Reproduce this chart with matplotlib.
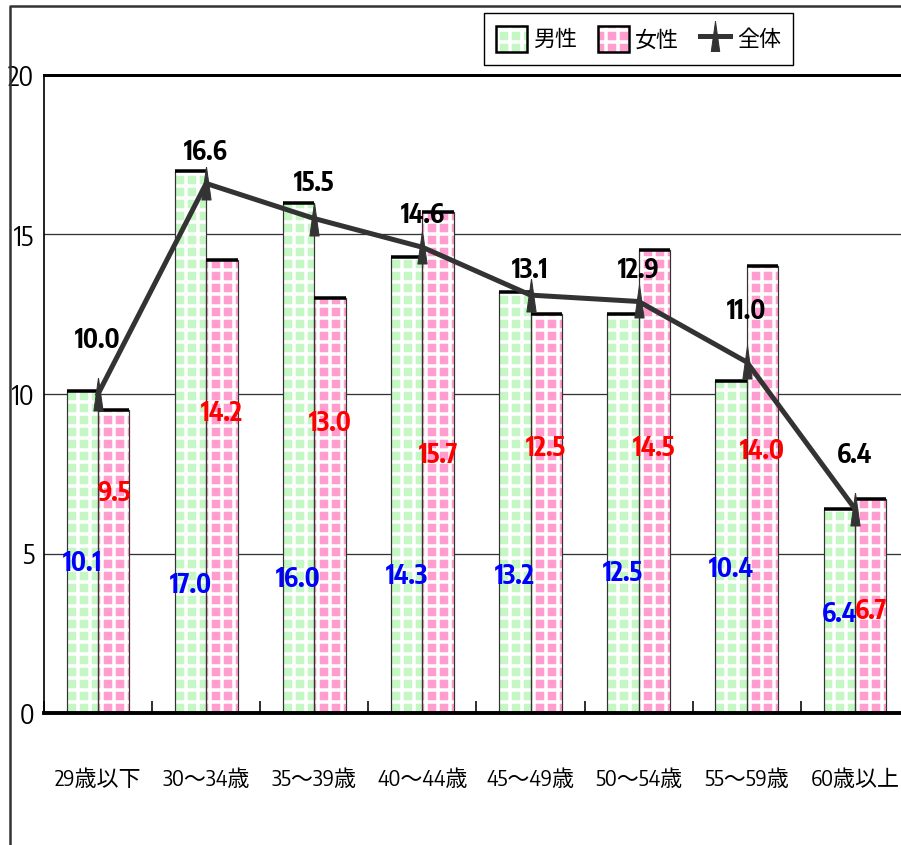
import numpy as np
import matplotlib
matplotlib.use("Agg")
import matplotlib.pyplot as plt
import matplotlib.patches as mpatches
from matplotlib.lines import Line2D
from matplotlib import font_manager as fm

# at 72 dpi one point is one pixel, so every size below is in pixels
DPI = 72

# look for a narrow latin face (with a bold weight); the chart's lettering is tall and condensed
cands = {}
for f in fm.fontManager.ttflist:
    if 'Narrow' in f.name or 'Condensed' in f.name:
        w = f.weight if isinstance(f.weight, int) else (700 if 'bold' in str(f.weight) else 400)
        cands[f.name] = max(cands.get(f.name, 0), w)
narrow = None
if cands:
    narrow = sorted(cands, key=lambda n: (cands[n] >= 700, 'Sans' in n), reverse=True)[0]
fams = ([narrow] if narrow else []) + ['Noto Sans CJK JP', 'DejaVu Sans']
plt.rcParams['font.family'] = fams
plt.rcParams['hatch.linewidth'] = 3.5

# data
categories = ['29歳以下', '30～34歳', '35～39歳', '40～44歳', '45～49歳', '50～54歳', '55～59歳', '60歳以上']
male = [10.1, 17.0, 16.0, 14.3, 13.2, 12.5, 10.4, 6.4]
female = [9.5, 14.2, 13.0, 15.7, 12.5, 14.5, 14.0, 6.7]
total = [10.0, 16.6, 15.5, 14.6, 13.1, 12.9, 11.0, 6.4]

# where the value labels sit (y, data units)
male_label_y = [4.7, 4.0, 4.2, 4.3, 4.3, 4.4, 4.5, 3.1]
female_label_y = [6.9, 9.4, 9.1, 8.1, 8.3, 8.3, 8.2, 3.2]
total_label_y = [11.7, 17.6, 16.6, 15.6, 13.9, 13.9, 12.6, 8.1]

green = '#c4f7c4'
pink = '#ff9dce'
line_col = '#333333'
bw = 0.29
lab_size = 26 if narrow else 22

x = np.arange(len(categories))
xm = x - bw / 2
xf = x + bw / 2

fig = plt.figure(figsize=(901 / DPI, 845 / DPI), dpi=DPI)
ax = fig.add_axes([44 / 901, 132 / 845, 865 / 901, 638 / 845])

# bars: colour, white plaid, edges
for xs, vals, col in [(xm, male, green), (xf, female, pink)]:
    ax.bar(xs, vals, bw, color=col, lw=0, zorder=2)
    ax.bar(xs, vals, bw, facecolor='none', edgecolor='white', hatch='+', lw=0, zorder=2.1)
    ax.bar(xs, vals, bw, facecolor='none', edgecolor='#333333', lw=1.2, zorder=2.2)
    ax.hlines(vals, xs - bw / 2, xs + bw / 2, color='black', lw=3.5, zorder=2.3)

# total line
tri = [(0, 1), (-0.28, -1), (0.28, -1), (0, 1)]
ax.plot(x, total, color=line_col, lw=5, marker=tri, markersize=33,
        markerfacecolor=line_col, markeredgecolor=line_col, zorder=3)

# value labels
for i in range(len(categories)):
    ax.text(xm[i], male_label_y[i], f'{male[i]:.1f}', color='#0000ff', fontsize=lab_size,
            fontweight='bold', ha='center', va='center', zorder=4)
    ax.text(xf[i], female_label_y[i], f'{female[i]:.1f}', color='#ff0000', fontsize=lab_size,
            fontweight='bold', ha='center', va='center', zorder=4)
    ax.text(x[i], total_label_y[i], f'{total[i]:.1f}', color='black', fontsize=lab_size,
            fontweight='bold', ha='center', va='center', zorder=4)

ax.set_xlim(-0.5, 7.5)
ax.set_ylim(0, 20)
ax.set_yticks([0, 5, 10, 15, 20])
ax.set_xticks(x)
ax.set_xticklabels(categories)
ax.set_xticks(np.arange(-0.5, 8.0, 1.0), minor=True)
ax.tick_params(axis='y', length=0, pad=10, labelsize=27 if narrow else 22)
ax.tick_params(axis='x', which='major', length=0, pad=55, labelsize=22)
ax.tick_params(axis='x', which='minor', direction='in', length=12, width=1.6)
ax.yaxis.grid(True, color='#333333', lw=1.3, zorder=0)
ax.set_axisbelow(True)
ax.spines['left'].set_linewidth(1.7)
ax.spines['bottom'].set_linewidth(3.9)
ax.spines['top'].set_linewidth(3)

# outer chart frame
fig.add_artist(Line2D([10 / 901, 10 / 901, 1.0], [0, 1 - 6 / 845, 1 - 6 / 845],
                      transform=fig.transFigure, color='#333333', lw=2.5))

# legend
def box(col):
    return (mpatches.Patch(facecolor=col, edgecolor='none'),
            mpatches.Patch(facecolor='none', edgecolor='white', hatch='+', lw=0),
            mpatches.Patch(facecolor='none', edgecolor='black', lw=2.5))

handles = [box(green), box(pink),
           Line2D([], [], color=line_col, lw=5, marker=tri, markersize=30,
                  markerfacecolor=line_col, markeredgecolor=line_col)]
leg = fig.legend(handles, ['男性', '女性', '全体'], ncol=3, loc='center', mode='expand',
                 bbox_to_anchor=(484 / 901, 1 - 72 / 845, 309 / 901, 66 / 845),
                 prop={'family': fams, 'size': 22},
                 fancybox=False, framealpha=1, edgecolor='black', borderaxespad=0,
                 handlelength=1.4, handleheight=1.5, handletextpad=0.3, columnspacing=1.2,
                 borderpad=0.55)
leg.get_frame().set_linewidth(1.4)
leg.set_zorder(5)

fig.savefig('out.png', dpi=DPI, facecolor='white')
